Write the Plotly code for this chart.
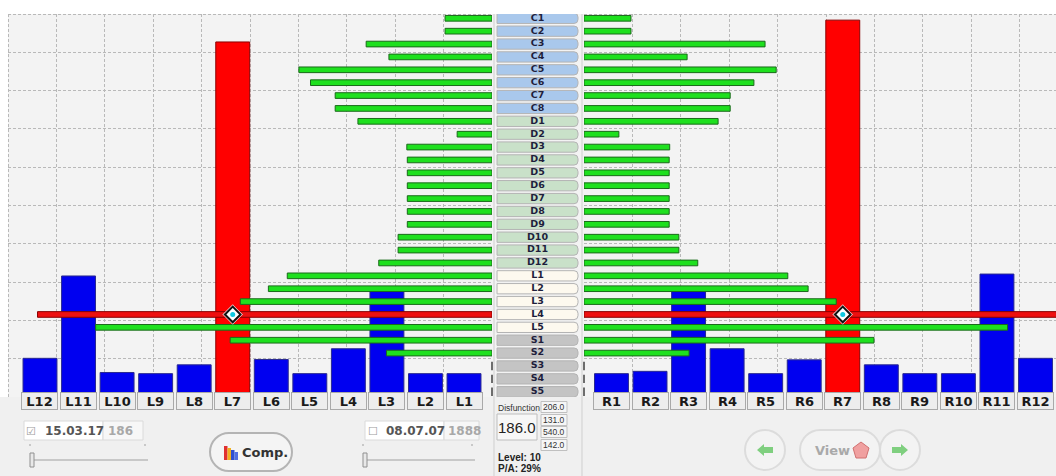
import plotly.graph_objects as go

W, H = 1056, 476

# ---------------- data ----------------
left_teeth = ["L12", "L11", "L10", "L9", "L8", "L7", "L6", "L5", "L4", "L3", "L2", "L1"]
left_height = [10.1, 31.6, 6.4, 6.1, 8.4, 92.7, 9.8, 6.1, 12.6, 27.8, 6.1, 6.1]
right_teeth = ["R1", "R2", "R3", "R4", "R5", "R6", "R7", "R8", "R9", "R10", "R11", "R12"]
right_height = [6.1, 6.7, 27.8, 12.6, 6.1, 9.7, 98.4, 8.4, 6.1, 6.1, 32.1, 10.1]
selected_teeth = ["L7", "R7"]

segments = (["C%d" % i for i in range(1, 9)] + ["D%d" % i for i in range(1, 13)]
            + ["L%d" % i for i in range(1, 6)] + ["S%d" % i for i in range(1, 6)])
left_level = [9.7, 9.7, 26.0, 21.3, 39.9, 37.5, 32.4, 32.4,
              27.7, 7.2, 17.6, 17.5, 17.5, 17.5, 17.5, 17.5, 17.5, 19.4, 19.4, 23.4,
              42.3, 46.2, 52.0, 93.9, 81.9,
              54.1, 21.8, 0, 0, 0]
right_level = [9.7, 9.7, 37.4, 21.3, 39.7, 35.1, 30.2, 30.2,
               27.7, 7.2, 17.7, 17.6, 17.6, 17.6, 17.6, 17.6, 17.6, 19.6, 19.6, 23.5,
               42.1, 46.3, 52.1, 100.0, 87.5,
               59.9, 21.7, 0, 0, 0]
selected_segment = "L4"

disfunction_main = 186.0
disfunction_parts = [206.0, 131.0, 540.0, 142.0]
level = 10
pa_percent = 29
date_left, count_left = "15.03.17", 186
date_right, count_right = "08.07.07", 1888

# ---------------- helpers ----------------
def px(x):
    return x / W


def py(y):
    return 1 - y / H


group_fill = {"C": "#a9c8ec", "D": "#c9e1c9", "L": "#fdf9ef", "S": "#c4c4c4"}
GRIDCOL = "#b9b9b9"
GRID = dict(showgrid=True, gridcolor=GRIDCOL, griddash="3px,2px", gridwidth=1,
            showticklabels=False, zeroline=False, ticks="", showline=False)
NOGRID = dict(showgrid=False, showticklabels=False, zeroline=False, ticks="", showline=False)

fig = go.Figure()

# vertical tooth bars
fig.add_trace(go.Bar(
    x=left_teeth, y=left_height, xaxis="x", yaxis="y", width=0.88,
    marker=dict(color=["#ff0000" if t in selected_teeth else "#0000f0" for t in left_teeth],
                line=dict(color=["#8a0000" if t in selected_teeth else "#2a2a90" for t in left_teeth], width=1)),
    hoverinfo="skip", showlegend=False))
fig.add_trace(go.Bar(
    x=right_teeth, y=right_height, xaxis="x3", yaxis="y", width=0.88,
    marker=dict(color=["#ff0000" if t in selected_teeth else "#0000f0" for t in right_teeth],
                line=dict(color=["#8a0000" if t in selected_teeth else "#2a2a90" for t in right_teeth], width=1)),
    hoverinfo="skip", showlegend=False))


def seg_bars(levels, xa):
    segs = [s for s, v in zip(segments, levels) if v > 0]
    vals = [v for v in levels if v > 0]
    fig.add_trace(go.Bar(
        x=vals, y=segs, orientation="h", xaxis=xa, yaxis="y2", width=0.44,
        marker=dict(color=["#ee1010" if s == selected_segment else "#1ee01e" for s in segs],
                    line=dict(color=["#8a0000" if s == selected_segment else "#1b6a1b" for s in segs], width=1)),
        hoverinfo="skip", showlegend=False))
    zsegs = [s for s, v in zip(segments, levels) if v == 0]
    fig.add_trace(go.Scatter(
        x=[0] * len(zsegs), y=zsegs, mode="markers", xaxis=xa, yaxis="y2", cliponaxis=False,
        marker=dict(symbol="line-ns-open", size=6, color="#404040", line=dict(color="#404040", width=1.5)),
        hoverinfo="skip", showlegend=False))


seg_bars(left_level, "x2")
seg_bars(right_level, "x4")

# selection diamonds (on overlay axes so they sit above the segment bars)
for teeth, xa in ((left_teeth, "x6"), (right_teeth, "x7")):
    sel = [t for t in teeth if t in selected_teeth]
    fig.add_trace(go.Scatter(
        x=sel, y=[selected_segment] * len(sel), mode="markers", xaxis=xa, yaxis="y2",
        marker=dict(symbol="diamond", size=15, color="white", line=dict(color="#f0b8b8", width=1)),
        hoverinfo="skip", showlegend=False))
    fig.add_trace(go.Scatter(
        x=sel, y=[selected_segment] * len(sel), mode="markers", xaxis=xa, yaxis="y2",
        marker=dict(symbol="diamond", size=12, color="white", line=dict(color="#111111", width=2)),
        hoverinfo="skip", showlegend=False))
    fig.add_trace(go.Scatter(
        x=sel, y=[selected_segment] * len(sel), mode="markers", xaxis=xa, yaxis="y2",
        marker=dict(symbol="circle", size=5, color="#10c8e0", line=dict(width=0)),
        hoverinfo="skip", showlegend=False))

# centre segment pills
fig.add_trace(go.Bar(
    x=[1] * len(segments), y=segments, orientation="h", xaxis="x5", yaxis="y3", width=0.8,
    marker=dict(color=[group_fill[s[0]] for s in segments], line=dict(color="#b4b4b4", width=1),
                cornerradius=4),
    hoverinfo="skip", showlegend=False))
fig.add_trace(go.Scatter(
    x=[0.5] * len(segments), y=segments, mode="text", xaxis="x5", yaxis="y3",
    text=["<b>%s</b>" % s for s in segments],
    textfont=dict(family="DejaVu Sans", size=9.5, color="#1e1e3c"),
    hoverinfo="skip", showlegend=False))

ydom = [py(397), py(14)]
row_range = [29.41, -0.334]
left_cat_range = [-0.830, 11.726]
right_cat_range = [-0.713, 11.532]

layout = dict(
    width=W, height=H, margin=dict(l=0, r=0, t=0, b=0), autosize=False,
    paper_bgcolor="#f0f0f0", plot_bgcolor="#f3f3f3", barmode="overlay",
    showlegend=False,
    xaxis=dict(domain=[px(8), px(492)], range=left_cat_range, type="category",
               categoryorder="array", categoryarray=left_teeth, anchor="y", **NOGRID),
    yaxis=dict(domain=ydom, range=[0, 100], dtick=10, anchor="x", **GRID),
    xaxis2=dict(overlaying="x", range=[100, 0], dtick=10, anchor="y", **GRID),
    yaxis2=dict(overlaying="y", type="category", categoryorder="array", categoryarray=segments,
                range=row_range, anchor="x", **NOGRID),
    xaxis3=dict(domain=[px(584), 1], range=right_cat_range, type="category",
                categoryorder="array", categoryarray=right_teeth, anchor="y", **NOGRID),
    xaxis4=dict(overlaying="x3", range=[0, 97.5], dtick=10, anchor="y", **GRID),
    xaxis5=dict(domain=[px(492), px(584)], range=[-0.062, 1.074], anchor="y3", **NOGRID),
    yaxis3=dict(domain=ydom, type="category", categoryorder="array", categoryarray=segments,
                range=row_range, anchor="x5", **NOGRID),
    xaxis6=dict(overlaying="x", range=left_cat_range, type="category",
                categoryorder="array", categoryarray=left_teeth, anchor="y", **NOGRID),
    xaxis7=dict(overlaying="x3", range=right_cat_range, type="category",
                categoryorder="array", categoryarray=right_teeth, anchor="y", **NOGRID),
)
fig.update_layout(**layout)

shapes = []
annots = []

# white frame at top and left
shapes.append(dict(type="rect", xref="paper", yref="paper", x0=0, x1=1, y0=py(14), y1=1,
                   fillcolor="white", line=dict(width=0), layer="below"))
shapes.append(dict(type="rect", xref="paper", yref="paper", x0=0, x1=px(8), y0=py(397), y1=1,
                   fillcolor="white", line=dict(width=0), layer="below"))
# dashed panel borders (top edge and left edge of the chart area)
for a, b in ((8, 492), (584, 1056)):
    shapes.append(dict(type="line", xref="paper", yref="paper", x0=px(a), x1=px(b), y0=py(14.5), y1=py(14.5),
                       line=dict(color=GRIDCOL, width=1, dash="3px,2px"), layer="below"))
shapes.append(dict(type="line", xref="paper", yref="paper", x0=px(8.5), x1=px(8.5), y0=py(397), y1=py(14),
                   line=dict(color=GRIDCOL, width=1, dash="3px,2px"), layer="below"))
# centre column dividers
for xx in (494, 582):
    shapes.append(dict(type="line", xref="paper", yref="paper", x0=px(xx), x1=px(xx), y0=0, y1=py(14),
                       line=dict(color="#cfcfcf", width=1)))

# tooth buttons
BTN = dict(showarrow=False, yref="paper", y=py(410), bgcolor="#ededed", bordercolor="#a9a9a9",
           borderwidth=1, borderpad=1, width=33, height=14,
           font=dict(family="DejaVu Sans", size=13, color="#1a1a1a"))
for t in left_teeth:
    annots.append(dict(text="<b>%s</b>" % t, x=t, xref="x", **BTN))
for t in right_teeth:
    annots.append(dict(text="<b>%s</b>" % t, x=t, xref="x3", **BTN))


def A(text, x, y, size=12, color="#333", xanchor="center", family="DejaVu Sans", **kw):
    return dict(text=text, x=px(x), y=py(y), xref="paper", yref="paper", showarrow=False,
                xanchor=xanchor, yanchor="middle",
                font=dict(family=family, size=size, color=color), **kw)


def rect(x0, y0, x1, y1, fill, line="#c8c8c8", lw=1):
    return dict(type="rect", xref="paper", yref="paper", x0=px(x0), x1=px(x1), y0=py(y1), y1=py(y0),
                fillcolor=fill, line=dict(color=line, width=lw))


def rounded(cx, cy, w, h, r, fill, line, lw=1.5):
    k = 0.5523 * r
    x0, x1, y0, y1 = -w / 2, w / 2, -h / 2, h / 2
    p = (f"M{x0+r},{y0} L{x1-r},{y0} C{x1-r+k},{y0} {x1},{y0+r-k} {x1},{y0+r} "
         f"L{x1},{y1-r} C{x1},{y1-r+k} {x1-r+k},{y1} {x1-r},{y1} "
         f"L{x0+r},{y1} C{x0+r-k},{y1} {x0},{y1-r+k} {x0},{y1-r} "
         f"L{x0},{y0+r} C{x0},{y0+r-k} {x0+r-k},{y0} {x0+r},{y0} Z")
    return dict(type="path", xref="paper", yref="paper", xsizemode="pixel", ysizemode="pixel",
                xanchor=px(cx), yanchor=py(cy), path=p, fillcolor=fill, line=dict(color=line, width=lw))


# date boxes
shapes.append(rect(24, 421, 103, 440, "white", "#dadada"))
shapes.append(rect(103, 421, 143, 440, "#f7f7f7", "#dadada"))
annots.append(A("☑", 31, 431, size=11, color="#9a9a9a"))
annots.append(A("<b>%s</b>" % date_left, 43, 431, size=12, color="#555555", xanchor="left"))
annots.append(A("<b>%d</b>" % count_left, 106, 431, size=12, color="#a8a8a8", xanchor="left"))

shapes.append(rect(365, 421, 444, 440, "white", "#dadada"))
shapes.append(rect(444, 421, 479, 440, "#f7f7f7", "#dadada"))
annots.append(A("☐", 373, 431, size=11, color="#9a9a9a"))
annots.append(A("<b>%s</b>" % date_right, 384, 431, size=12, color="#555555", xanchor="left"))
annots.append(A("<b>%d</b>" % count_right, 446, 431, size=12, color="#a8a8a8", xanchor="left"))

# sliders
for a, b in ((32, 148), (365, 475)):
    shapes.append(dict(type="line", xref="paper", yref="paper", x0=px(a), x1=px(b), y0=py(460), y1=py(460),
                       line=dict(color="#a0a0a0", width=1)))
    shapes.append(rect(a - 2, 453, a + 2, 467, "#e8e8e8", "#909090"))
    for tx in (a - 2, b - 3):
        shapes.append(dict(type="line", xref="paper", yref="paper", x0=px(tx), x1=px(tx), y0=py(446), y1=py(444),
                           line=dict(color="#a0a0a0", width=1)))

# Comp. button
shapes.append(rounded(251, 452, 82, 38, 19, "#f4f4f4", "#b4b4b4", 2))
for i, (c, hgt) in enumerate((("#e03030", 14), ("#f0b020", 12), ("#3050d0", 10), ("#5070e0", 8))):
    x0 = 224 + i * 3.5
    shapes.append(dict(type="rect", xref="paper", yref="paper", x0=px(x0), x1=px(x0 + 3.5),
                       y0=py(460), y1=py(460 - hgt), fillcolor=c, line=dict(width=0)))
annots.append(A("<b>Comp.</b>", 240, 452, size=13, color="#333333", xanchor="left"))

# Disfunction panel
annots.append(A("Disfunction", 496, 408, size=8.5, color="#333333", xanchor="left", family="Liberation Sans"))
for val, yy in zip(disfunction_parts, (407, 420, 432, 445)):
    shapes.append(rect(541, yy - 5.5, 567, yy + 5.5, "#f6f6f6", "#c0c0c0"))
    annots.append(A("%.1f" % val, 554, yy, size=8.5, color="#333333", family="Liberation Sans"))
shapes.append(rect(497, 414, 537, 440, "#f7f7f7", "#bdbdbd"))
annots.append(A("%.1f" % disfunction_main, 517, 427, size=15, color="#222222", family="Liberation Sans"))
annots.append(A("<b>Level: %d</b>" % level, 496, 457, size=10, color="#222222", xanchor="left", family="Liberation Sans"))
annots.append(A("<b>P/A: %d%%</b>" % pa_percent, 496, 468, size=10, color="#222222", xanchor="left", family="Liberation Sans"))

# navigation buttons
for cx, d in ((765, -1), (900, 1)):
    shapes.append(dict(type="circle", xref="paper", yref="paper", xsizemode="pixel", ysizemode="pixel",
                       xanchor=px(cx), yanchor=py(450), x0=-20, x1=20, y0=-20, y1=20,
                       fillcolor="#f3f3f3", line=dict(color="#dcdcdc", width=2)))
    ap = (f"M{8*d},0 L{1*d},6 L{1*d},3 L{-8*d},3 L{-8*d},-3 L{1*d},-3 L{1*d},-6 Z")
    shapes.append(dict(type="path", xref="paper", yref="paper", xsizemode="pixel", ysizemode="pixel",
                       xanchor=px(cx), yanchor=py(450), path=ap, fillcolor="#7fcf7f", line=dict(width=0)))
shapes.append(rounded(840, 450, 80, 40, 20, "#f3f3f3", "#dcdcdc", 2))
annots.append(A("<b>View</b>", 813, 450, size=13, color="#a9a9a9", xanchor="left"))
shapes.append(dict(type="path", xref="paper", yref="paper", xsizemode="pixel", ysizemode="pixel",
                   xanchor=px(861), yanchor=py(450), path="M0,8 L8,2 L5,-8 L-5,-8 L-8,2 Z",
                   fillcolor="#f0a0a0", line=dict(color="#d07070", width=1)))

fig.update_layout(shapes=shapes, annotations=annots)
fig.write_html("out.html", config={"displayModeBar": False},
               post_script="document.body.style.margin='0';document.body.style.overflow='hidden';")
